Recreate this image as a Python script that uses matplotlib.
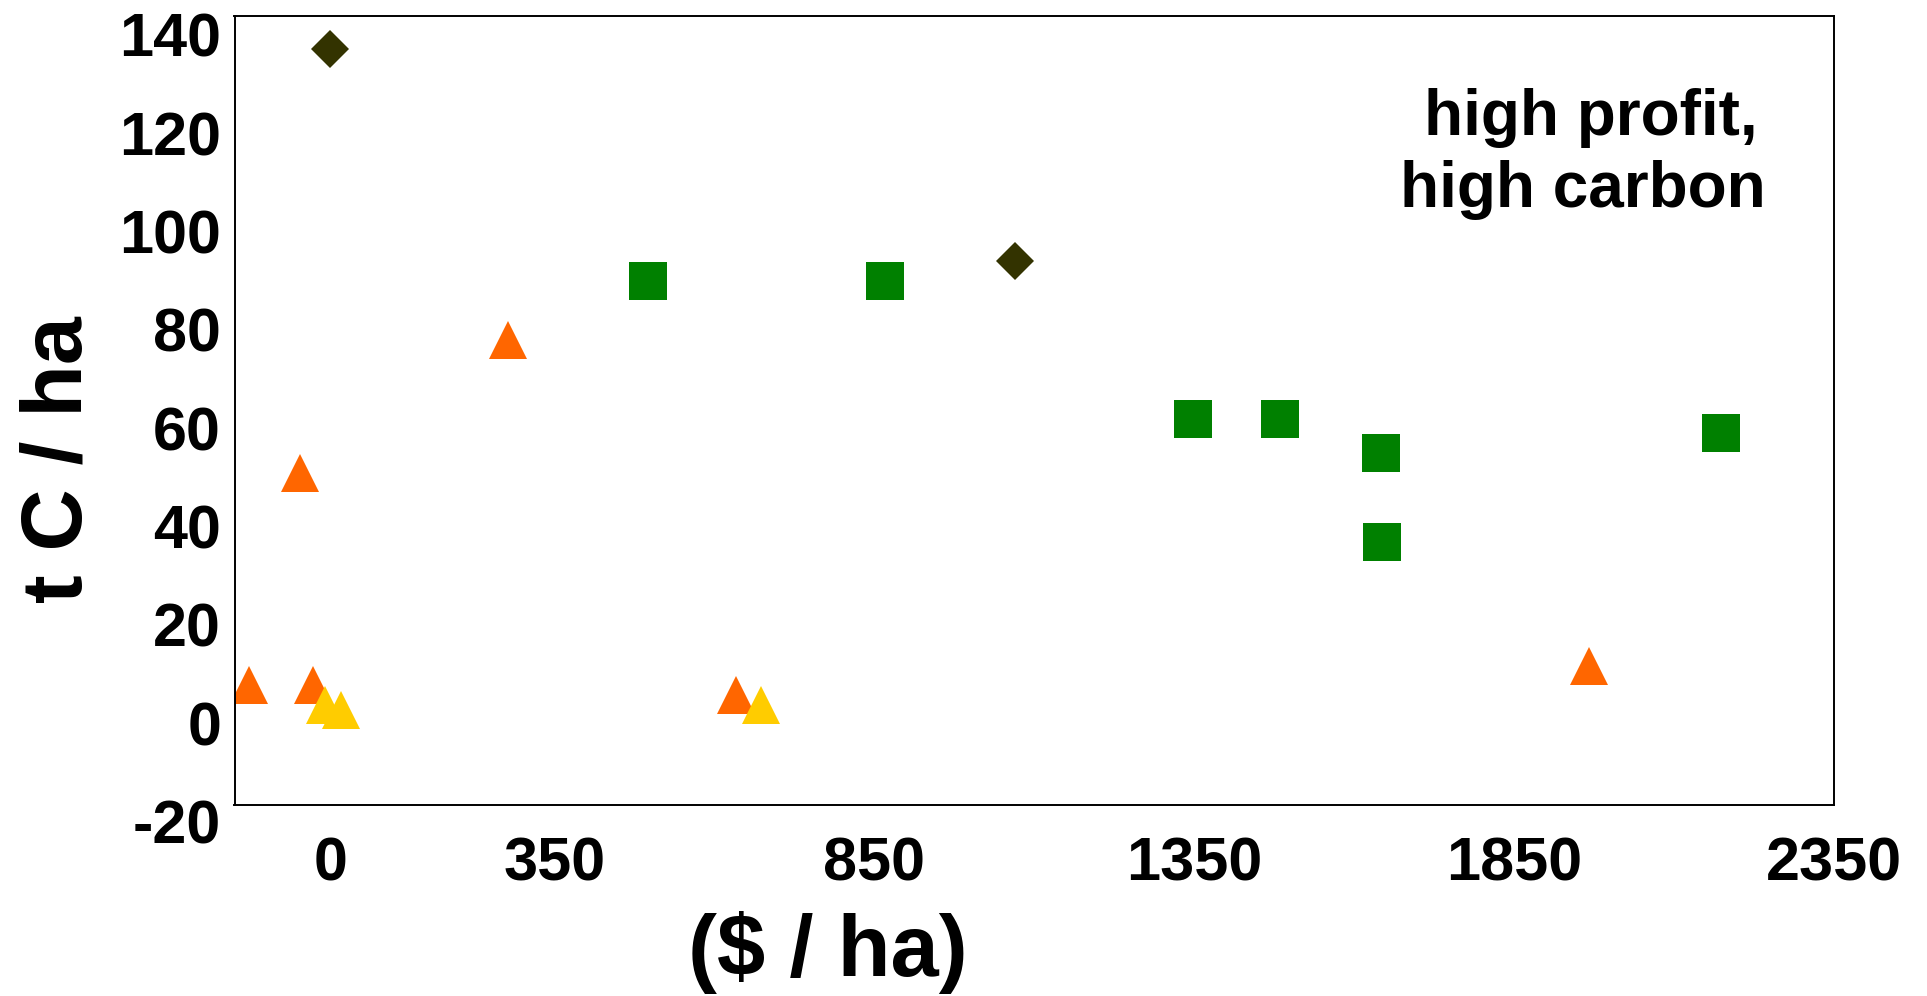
import matplotlib
matplotlib.use("Agg")
import matplotlib.pyplot as plt

plt.rcParams['font.family'] = ['Liberation Sans', 'DejaVu Sans']
plt.rcParams['font.weight'] = 'bold'

# === data (profit $/ha, carbon t C/ha) ===
diamond_x = [0, 1070]
diamond_y = [137.1, 93.9]

square_x = [496, 866, 1348, 1484, 1642, 1643, 2173]
square_y = [90.0, 90.0, 61.9, 61.9, 54.9, 36.8, 58.9]

orange_x = [-127, -27, -47, 278, 633, 1966]
orange_y = [7.7, 7.7, 50.9, 78.0, 5.7, 11.7]

yellow_x = [-9, 17, 673]
yellow_y = [3.7, 2.7, 3.7]

xticks = [0, 350, 850, 1350, 1850, 2350]
yticks = [0, 20, 40, 60, 80, 100, 120, 140]

W, H = 1927, 996
fig = plt.figure(figsize=(W / 100, H / 100), dpi=100)
ax = fig.add_axes([234.5 / W, 1 - 804.7 / H, 1599.8 / W, 789.2 / H])

ax.plot(diamond_x, diamond_y, linestyle='none', marker='D', markersize=19.5,
        color='#333300', markeredgewidth=0)
ax.plot(square_x, square_y, linestyle='none', marker='s', markersize=27.7,
        color='#008000', markeredgewidth=0)
ax.plot(orange_x, orange_y, linestyle='none', marker='^', markersize=27.5,
        color='#FF6600', markeredgewidth=0)
ax.plot(yellow_x, yellow_y, linestyle='none', marker='^', markersize=27.5,
        color='#FFCC00', markeredgewidth=0)

ax.set_xlim(-150, 2350)
ax.set_ylim(-16.6, 143.9)
ax.set_xticks(xticks)
ax.set_yticks(yticks)
ax.tick_params(axis='both', length=0, labelsize=44)
ax.tick_params(axis='x', pad=23)
ax.tick_params(axis='y', pad=9.7)
for lab in ax.get_xticklabels() + ax.get_yticklabels():
    lab.set_fontweight('bold')
for sp in ax.spines.values():
    sp.set_linewidth(1.4)
    sp.set_color('black')

# -20 sits just below the plot frame, like the original
ax.annotate('-20', xy=(0, -20), xycoords=ax.get_yaxis_transform(),
            xytext=(-9.7, 0), textcoords='offset points',
            ha='right', va='center_baseline', fontsize=44, fontweight='bold',
            annotation_clip=False)

# axis titles
fig.text(81.7 / W, 1 - 460 / H, 't C / ha', rotation=90, rotation_mode='anchor',
         ha='center', va='baseline', fontsize=62, fontweight='bold')
fig.text(828 / W, 1 - 976 / H, '($ / ha)', ha='center', va='baseline',
         fontsize=62.5, fontweight='bold')

# corner note
fig.text(1591 / W, 1 - 135 / H, 'high profit,', ha='center', va='baseline',
         fontsize=46, fontweight='bold')
fig.text(1582.5 / W, 1 - 206.7 / H, 'high carbon', ha='center', va='baseline',
         fontsize=46, fontweight='bold')

fig.savefig('out.png', dpi=100, facecolor='white')
